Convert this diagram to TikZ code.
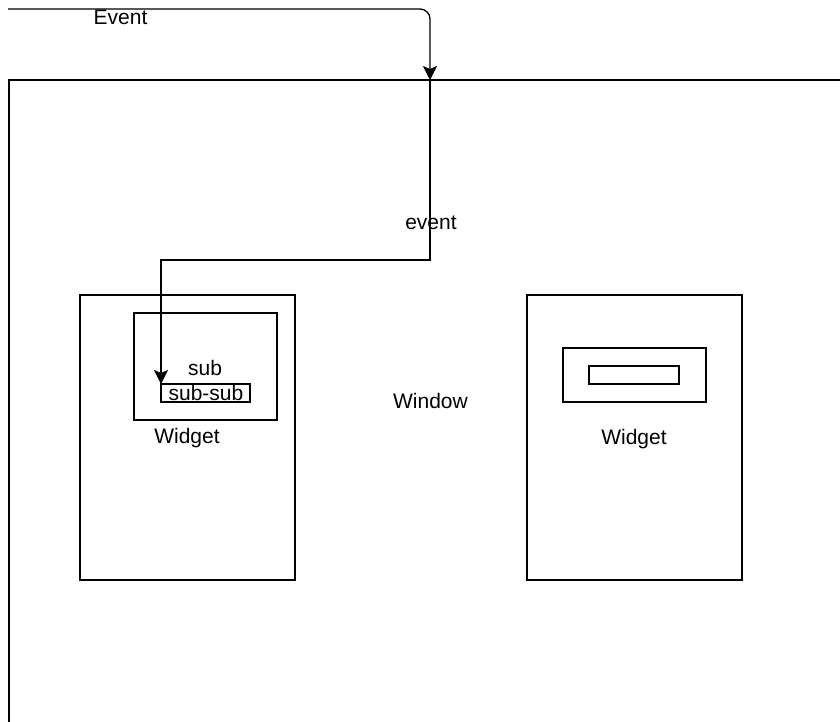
\documentclass[tikz,border=0pt]{standalone}
\usepackage{fontspec}
\setmainfont{Liberation Sans}
\usetikzlibrary{arrows.meta}
\begin{document}
\begin{tikzpicture}[x=1pt,y=-1pt,
  box/.style={draw, line width=1.3pt, anchor=north west, inner sep=0pt, outer sep=0pt},
  lbl/.style={inner sep=0pt, font=\fontsize{21}{24}\selectfont},
  arr/.style={line width=1.3pt, -{Stealth[length=14pt,width=14pt,inset=3pt]}}]
\useasboundingbox (0,0) rectangle (840,721);
\begin{scope}
\clip (0,0) rectangle (840,721);
\node[box, minimum width=900pt, minimum height=700pt] (win) at (9,80) {};
\end{scope}
\node[lbl] (winlbl) at (430.5,401) {Window};
% left widget
\node[box, minimum width=215pt, minimum height=285pt] (w1) at (80,295) {};
\node[box, minimum width=143pt, minimum height=107pt] (sub) at (134,313) {};
\node[box, minimum width=89pt, minimum height=18pt] (subsub) at (161,384) {};
\node[lbl] (sublbl) at (205,367.5) {sub};
\node[lbl, anchor=base] (subsublbl) at (206,400) {sub-sub};
\node[lbl, anchor=base] (w1lbl) at (187,443.5) {Widget};
% right widget
\node[box, minimum width=215pt, minimum height=285pt] (w2) at (527,295) {};
\node[box, minimum width=143pt, minimum height=54pt] (w2in) at (563,348) {};
\node[box, minimum width=90pt, minimum height=18pt] (w2inin) at (589,366) {};
\node[lbl, anchor=base] (w2lbl) at (634,444.5) {Widget};
% event arrows
\coordinate (src) at (8,9);
\coordinate (in1) at (430,80);
\coordinate (turn) at (430,260);
\draw[arr, rounded corners=10pt] (src) -| (in1);
\node[lbl, anchor=base] (evlbl) at (120.5,24.5) {Event};
\draw[arr] (in1) -- (turn) -| (subsub.north west);
\node[lbl] (ev2lbl) at (431,223) {event};
\end{tikzpicture}
\end{document}
